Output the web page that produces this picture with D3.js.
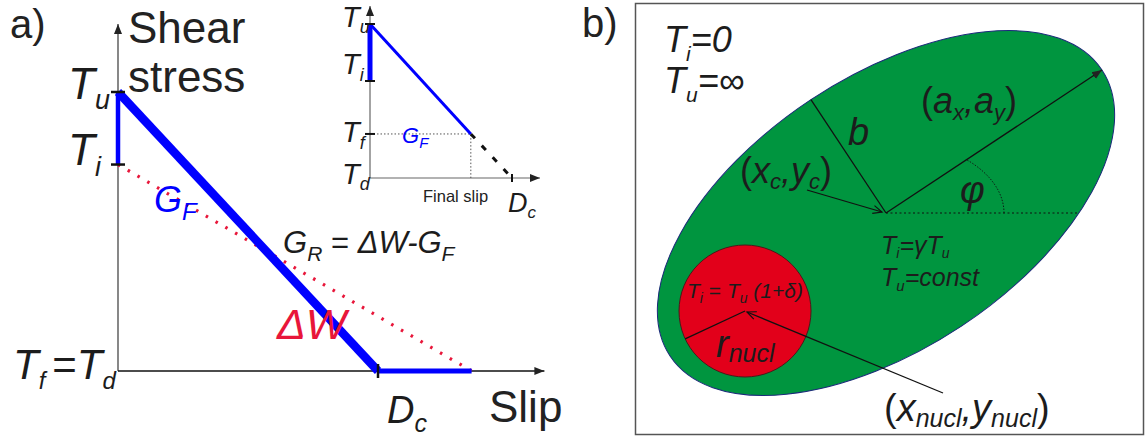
<!DOCTYPE html>
<html>
<head>
<meta charset="UTF-8">
<title>Slip weakening and fault geometry</title>
<script src="https://d3js.org/d3.v7.min.js"></script>
<style>
  body { margin: 0; background: #fff; }
  svg text { font-family: "Liberation Sans", Arial, sans-serif; white-space: pre; }
</style>
</head>
<body>
<svg id="fig" width="1147" height="436"></svg>
<script>
// ---- panel a data (normalised stress and slip) ----
const mainStress = [1.0, 0.74, 0.0];          // Tu, Ti, Tf = Td
const mainSlip = [0, 1.0, 1.36];              // origin, Dc, end of drawn slip
const insetStress = [1.0, 0.63, 0.286, 0.0];  // Tu, Ti, Tf, Td
const insetSlip = [0, 0.71, 1.0];             // origin, final slip, Dc

// ---- panel b data (fault plane, model units) ----
const faultCenter = [0, 0];
const faultAxes = [5.18, 2.72];               // a, b
const faultAngle = 33.5;                      // phi, degrees
const nuclCenter = [-2.82, -1.96];
const nuclRadius = 1.32;

const svg = d3.select("#fig");
const BLUE = "#0000ff", RED = "#e8163a", INK = "#1c1c1c";

// arrow heads
const defs = svg.append("defs");
function marker(id, path, fill, stroke) {
  defs.append("marker").attr("id", id)
    .attr("viewBox", "-10 -6 12 12").attr("refX", 0).attr("refY", 0)
    .attr("markerWidth", 12).attr("markerHeight", 12)
    .attr("markerUnits", "userSpaceOnUse").attr("orient", "auto")
    .append("path").attr("d", path)
    .attr("fill", fill).attr("stroke", stroke).attr("stroke-width", 1.2);
}
marker("tri", "M-10,-4L0,0L-10,4Z", "#222", "none");
marker("chev", "M-9,-4L0,0L-9,4", "none", "#111");

// rich text: parts = [text, size, baselineOffset, italic, dx]
function rich(x, y, parts, color, g) {
  const t = (g || svg).append("text").attr("x", x).attr("y", y).attr("fill", color || INK);
  let cur = 0;
  parts.forEach(p => {
    const off = p[2] || 0;
    const ts = t.append("tspan").text(p[0]).attr("font-size", p[1])
      .attr("dy", off - cur).attr("font-style", p[3] === false ? "normal" : "italic");
    if (p[4]) ts.attr("dx", p[4]);
    cur = off;
  });
  return t;
}

// ================= panel a =================
const x = d3.scaleLinear().domain([0, 1]).range([118, 378]);
const y = d3.scaleLinear().domain([0, 1]).range([371, 92]);
const line = d3.line().x(d => x(d[0])).y(d => y(d[1]));

// axes
svg.append("line").attr("x1", x(0)).attr("y1", y(0)).attr("x2", x(0)).attr("y2", 24)
  .attr("stroke", "#555").attr("stroke-width", 1.4).attr("marker-end", "url(#tri)");
svg.append("line").attr("x1", x(0)).attr("y1", y(0)).attr("x2", x(1.64)).attr("y2", y(0))
  .attr("stroke", "#111").attr("stroke-width", 1.6).attr("marker-end", "url(#tri)");

// red dotted (linear) weakening
svg.append("path").attr("d", line([[mainSlip[0], mainStress[1]], [mainSlip[2], mainStress[2]]]))
  .attr("fill", "none").attr("stroke", RED).attr("stroke-width", 3.2)
  .attr("stroke-dasharray", "2.5,8.8");

// blue slip-weakening curve
svg.append("path").attr("d", line([[0, mainStress[1]], [0, mainStress[0]]]))
  .attr("stroke", BLUE).attr("stroke-width", 4.5);
svg.append("path").attr("d", line([[mainSlip[0], mainStress[0]], [mainSlip[1], mainStress[2]]]))
  .attr("fill", "none").attr("stroke", BLUE).attr("stroke-width", 8.5);
svg.append("path").attr("d", line([[mainSlip[1], mainStress[2]], [mainSlip[2], mainStress[2]]]))
  .attr("fill", "none").attr("stroke", BLUE).attr("stroke-width", 5);

// ticks
[mainStress[0], mainStress[1]].forEach(v => {
  svg.append("line").attr("x1", x(0) - 7).attr("x2", x(0) + 7).attr("y1", y(v)).attr("y2", y(v))
    .attr("stroke", "#111").attr("stroke-width", 2.5);
});
svg.append("line").attr("x1", x(mainSlip[1])).attr("x2", x(mainSlip[1]))
  .attr("y1", y(0) - 7).attr("y2", y(0) + 7).attr("stroke", "#111").attr("stroke-width", 2.5);

// labels
rich(10, 38, [["a)", 40, 0, false]], "#222");
rich(128, 43, [["Shear", 44, 0, false]], "#222");
rich(128, 92, [["stress", 44, 0, false]], "#222");
rich(68, y(mainStress[0]) + 7, [["T", 44], ["u", 27, 10]]);
rich(68, y(mainStress[1]) + 0, [["T", 44], ["i", 27, 11]]);
rich(13, 379, [["T", 42], ["f", 24, 10], ["=", 42, 0, false, 7], ["T", 42], ["d", 24, 10]]);
rich(154, 212, [["G", 36], ["F", 24, 8]], BLUE);
rich(283, 253, [["G", 31], ["R", 21, 8], [" = ", 31, 0, false], ["ΔW-G", 31], ["F", 21, 8]]);
rich(277, 339, [["ΔW", 43]], RED);
rich(387, 423, [["D", 38], ["c", 25, 9]]);
rich(489, 422, [["Slip", 44, 0, false]], "#222");

// ---------- inset ----------
const xi = d3.scaleLinear().domain([0, 1]).range([370, 512]);
const yi = d3.scaleLinear().domain([0, 1]).range([178, 24]);
const iline = d3.line().x(d => xi(d[0])).y(d => yi(d[1]));

svg.append("line").attr("x1", xi(0)).attr("y1", yi(0)).attr("x2", xi(0)).attr("y2", 6)
  .attr("stroke", "#666").attr("stroke-width", 1.2).attr("marker-end", "url(#tri)");
svg.append("line").attr("x1", xi(0)).attr("y1", yi(0)).attr("x2", 540).attr("y2", yi(0))
  .attr("stroke", "#666").attr("stroke-width", 1.2).attr("marker-end", "url(#tri)");

// dotted guides to final slip
svg.append("path").attr("d", iline([[0, insetStress[2]], [insetSlip[1], insetStress[2]], [insetSlip[1], 0]]))
  .attr("fill", "none").attr("stroke", "#555").attr("stroke-width", 1).attr("stroke-dasharray", "1.5,2");
svg.append("path").attr("d", iline([[insetSlip[1], insetStress[2]], [insetSlip[2], insetStress[3]]]))
  .attr("fill", "none").attr("stroke", "#111").attr("stroke-width", 3).attr("stroke-dasharray", "6,10");
svg.append("path").attr("d", iline([[0, insetStress[1]], [0, insetStress[0]]]))
  .attr("stroke", BLUE).attr("stroke-width", 5);
svg.append("path").attr("d", iline([[0, insetStress[0]], [insetSlip[1], insetStress[2]]]))
  .attr("fill", "none").attr("stroke", BLUE).attr("stroke-width", 3);

[insetStress[0], insetStress[1], insetStress[2]].forEach(v => {
  svg.append("line").attr("x1", xi(0) - 5).attr("x2", xi(0) + 5).attr("y1", yi(v)).attr("y2", yi(v))
    .attr("stroke", "#111").attr("stroke-width", 2);
});
svg.append("line").attr("x1", xi(insetSlip[2])).attr("x2", xi(insetSlip[2]))
  .attr("y1", yi(0) - 4).attr("y2", yi(0) + 4).attr("stroke", "#111").attr("stroke-width", 2);

rich(342, 27, [["T", 29], ["u", 18, 6]]);
rich(342, 74, [["T", 29], ["i", 18, 7]]);
rich(342, 142, [["T", 29], ["f", 18, 7]]);
rich(342, 184, [["T", 29], ["d", 18, 6]]);
rich(402, 143, [["G", 22], ["F", 15, 5]], BLUE);
rich(423, 202, [["Final slip", 16.5, 0, false]], "#222");
rich(508, 212, [["D", 27], ["c", 17, 6]]);

// ================= panel b =================
const K = 50; // px per model unit
const xb = d3.scaleLinear().domain([0, 1]).range([886, 886 + K]);
const yb = d3.scaleLinear().domain([0, 1]).range([213, 213 - K]);

svg.append("rect").attr("x", 635.5).attr("y", 3.5).attr("width", 508).attr("height", 431)
  .attr("fill", "none").attr("stroke", "#555").attr("stroke-width", 1.5);

const cx = xb(faultCenter[0]), cy = yb(faultCenter[1]);
const phi = faultAngle * Math.PI / 180;
svg.append("ellipse").attr("cx", cx).attr("cy", cy)
  .attr("rx", xb(faultAxes[0]) - xb(0)).attr("ry", xb(faultAxes[1]) - xb(0))
  .attr("transform", `rotate(${-faultAngle},${cx},${cy})`)
  .attr("fill", "#00953f").attr("stroke", "#1b2a7a").attr("stroke-width", 1);

svg.append("circle").attr("cx", xb(nuclCenter[0])).attr("cy", yb(nuclCenter[1]))
  .attr("r", xb(nuclRadius) - xb(0))
  .attr("fill", "#e2001a").attr("stroke", "#4a1a1a").attr("stroke-width", 1);

// semi-axes
const aEnd = [faultCenter[0] + faultAxes[0] * Math.cos(phi), faultCenter[1] + faultAxes[0] * Math.sin(phi)];
const bEnd = [faultCenter[0] - faultAxes[1] * Math.sin(phi), faultCenter[1] + faultAxes[1] * Math.cos(phi)];
svg.append("line").attr("x1", cx).attr("y1", cy).attr("x2", xb(aEnd[0])).attr("y2", yb(aEnd[1]))
  .attr("stroke", "#111").attr("stroke-width", 1.3).attr("marker-end", "url(#tri)");
svg.append("line").attr("x1", cx).attr("y1", cy).attr("x2", xb(bEnd[0])).attr("y2", yb(bEnd[1]))
  .attr("stroke", "#111").attr("stroke-width", 1.3);

// horizontal reference to the ellipse edge
const a = faultAxes[0], b = faultAxes[1];
const rEdge = 1 / Math.sqrt(Math.cos(phi) ** 2 / (a * a) + Math.sin(phi) ** 2 / (b * b));
svg.append("line").attr("x1", cx).attr("y1", cy).attr("x2", xb(rEdge)).attr("y2", cy)
  .attr("stroke", "#111").attr("stroke-width", 1).attr("stroke-dasharray", "2,2.5");

// phi arc
const arcRx = 2.36, arcRy = 1.46;
const tEnd = Math.atan(Math.tan(phi) * arcRx / arcRy);
const arcPts = d3.range(0, 41).map(i => {
  const t = tEnd * i / 40;
  return [arcRx * Math.cos(t), arcRy * Math.sin(t)];
});
svg.append("path").attr("d", d3.line().x(d => xb(d[0])).y(d => yb(d[1])).curve(d3.curveBasis)(arcPts))
  .attr("fill", "none").attr("stroke", "#111").attr("stroke-width", 0.9).attr("stroke-dasharray", "1.5,1.5");

// centre pointer
svg.append("line").attr("x1", xb(-1.58)).attr("y1", yb(0.46)).attr("x2", cx - 4).attr("y2", cy - 1)
  .attr("stroke", "#111").attr("stroke-width", 1.3).attr("marker-end", "url(#chev)");

// nucleation radius and pointer
const nx = xb(nuclCenter[0]), ny = yb(nuclCenter[1]);
const rAng = 205 * Math.PI / 180;
svg.append("line").attr("x1", nx).attr("y1", ny)
  .attr("x2", xb(nuclCenter[0] + nuclRadius * Math.cos(rAng)))
  .attr("y2", yb(nuclCenter[1] + nuclRadius * Math.sin(rAng)))
  .attr("stroke", "#111").attr("stroke-width", 1.3);
svg.append("line").attr("x1", xb(1.14)).attr("y1", yb(-3.6)).attr("x2", nx + 2).attr("y2", ny + 1)
  .attr("stroke", "#111").attr("stroke-width", 1.3).attr("marker-end", "url(#chev)");

// labels
rich(582, 37, [["b)", 40, 0, false]], "#222");
rich(664, 52, [["T", 36], ["i", 21, 9], ["=0", 36]]);
rich(664, 93, [["T", 36], ["u", 21, 9], ["=∞", 36]]);
rich(921, 113, [["(", 36, 0, false], ["a", 36], ["x", 22, 7], [",", 36], ["a", 36], ["y", 22, 7], [")", 36, 0, false]]);
rich(848, 145, [["b", 38]]);
rich(740, 183, [["(", 36, 0, false], ["x", 36], ["c", 22, 6], [",", 36], ["y", 36], ["c", 22, 6], [")", 36, 0, false]]);
rich(960, 203, [["φ", 38]]);
rich(881, 254, [["T", 25], ["i", 14, 4], ["=γ", 25], ["T", 25], ["u", 14, 4]]);
rich(881, 286, [["T", 25], ["u", 15, 5], ["=const", 25]]);
rich(687, 298, [["T", 21], ["i", 14, 5], [" = ", 21, 0, false], ["T", 21], ["u", 14, 5], [" (1+δ)", 21]]);
rich(716, 357, [["r", 38], ["nucl", 25, 5]]);
rich(884, 421, [["(", 38, 0, false], ["x", 38], ["nucl", 25, 6], [",", 38], ["y", 38], ["nucl", 25, 6], [")", 38, 0, false]]);
</script>
</body>
</html>
